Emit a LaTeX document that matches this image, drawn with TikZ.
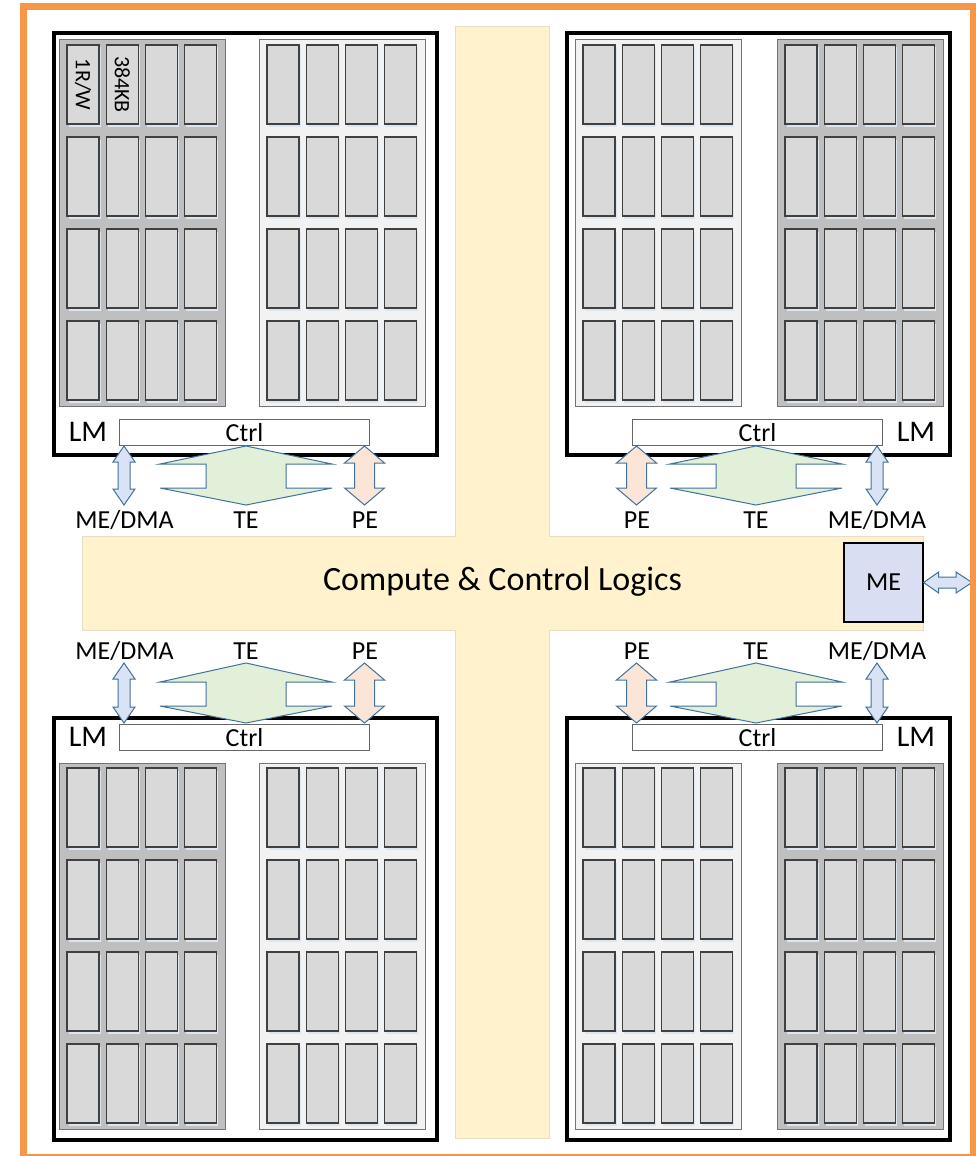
\documentclass[tikz,border=0pt]{standalone}
\usepackage{fontspec}
\setmainfont{Carlito}
\usetikzlibrary{calc}
\definecolor{frameorange}{HTML}{F79646}
\definecolor{logicfill}{HTML}{FFF2CC}
\definecolor{logicedge}{HTML}{E6DDC4}
\definecolor{tefill}{HTML}{E2F0D9}
\definecolor{pefill}{HTML}{FBE5D6}
\definecolor{mefill}{HTML}{DAE3F3}
\definecolor{mebox}{HTML}{D9DEF3}
\definecolor{arrowline}{HTML}{41719C}
\definecolor{bankdark}{HTML}{BFBFBF}
\definecolor{banklight}{HTML}{F2F2F2}
\definecolor{cellfill}{HTML}{D9D9D9}
\definecolor{glow}{HTML}{DCE6F2}

% one SRAM bank: 4 x 4 cells
\newcommand\membank[3]{%
  \draw[#3] (#1,#2) rectangle ++(166,366);
  \foreach \i in {0,...,3}{
    \foreach \j in {0,...,3}{
      \fill[glow] ({#1+8+39.3*\i+1.5},{#2+5+92*\j+2.5}) rectangle ++(32,79);
      \draw[cell] ({#1+8+39.3*\i},{#2+5+92*\j}) rectangle ++(32,79);
    }
  }
}
% vertical double arrow: x, top tip, bottom tip, head half-width, shaft half-width, head length, style
\newcommand\vdarrow[7]{%
  \draw[#7] (#1,#2) -- ({#1+#4},{#2+#6}) -- ({#1+#5},{#2+#6}) -- ({#1+#5},{#3-#6})
    -- ({#1+#4},{#3-#6}) -- (#1,#3) -- ({#1-#4},{#3-#6}) -- ({#1-#5},{#3-#6})
    -- ({#1-#5},{#2+#6}) -- ({#1-#4},{#2+#6}) -- cycle;
}
% TE link: notched diamond, centre x, top, upper notch, lower notch, bottom
\newcommand\teshape[5]{%
  \draw[telink] (#1,#2) -- ({#1+86},#3) -- ({#1+40},#3) -- ({#1+40},#4) -- ({#1+86},#4)
    -- (#1,#5) -- ({#1-86},#4) -- ({#1-40},#4) -- ({#1-40},#3) -- ({#1-86},#3) -- cycle;
}

\begin{document}
\begin{tikzpicture}[x=1pt,y=-1pt,
  font=\fontsize{26}{30}\selectfont,
  every node/.style={inner sep=0pt},
  block/.style={draw=black, line width=4pt, fill=white, anchor=north west,
                minimum width=383pt, minimum height=422pt},
  ctrlbox/.style={draw=black!60, line width=1pt, fill=white, anchor=north west,
                  minimum width=250pt, minimum height=26pt},
  darkbank/.style={draw=black!55, line width=1pt, fill=bankdark},
  lightbank/.style={draw=black!55, line width=1pt, fill=banklight},
  cell/.style={draw=black!75, line width=1.1pt, fill=cellfill},
  dmalink/.style={draw=arrowline, line width=1pt, fill=mefill},
  pelink/.style={draw=arrowline, line width=1pt, fill=pefill},
  telink/.style={draw=arrowline, line width=1pt, fill=tefill},
  lm/.style={font=\fontsize{30}{34}\selectfont},
  rot/.style={rotate=-90, font=\fontsize{22}{26}\selectfont}]
\useasboundingbox (0,0) rectangle (975,1156);
\fill[white] (0,0) rectangle (975,1156);

% compute & control logic cross
\draw[logicedge, line width=1pt, fill=logicfill]
  (455,27) -- (549,27) -- (549,536) -- (923,536) -- (923,630) -- (549,630)
  -- (549,1138) -- (455,1138) -- (455,630) -- (82,630) -- (82,536) -- (455,536) -- cycle;
\node (logic) at (502.5,582) {\fontsize{34}{38}\selectfont Compute \& Control Logics};

% ME unit and its external link
\node[draw=black, line width=1.3pt, fill=mebox, minimum width=79pt, minimum height=79pt]
  (me) at (883.5,582.5) {ME};
\draw[dmalink] (me.east) -- ++(15,-10.5) -- ++(0,5) -- (956,577) -- (956,572)
  -- (972,582.5) -- (956,593) -- (956,588) -- ($(me.east)+(15,5.5)$) -- ++(0,5) -- cycle;

% four local-memory blocks
\fill[glow] (54,33) rectangle (439,457);
\fill[glow] (567,33) rectangle (952,457);
\fill[glow] (54,718) rectangle (439,1142);
\fill[glow] (567,718) rectangle (952,1142);
\node[block] (lmTL) at (52,31) {};
\node[block] (lmTR) at (565,31) {};
\node[block] (lmBL) at (52,716) {};
\node[block] (lmBR) at (565,716) {};

\membank{59}{40}{darkbank}
\membank{259}{40}{lightbank}
\membank{575}{40}{lightbank}
\membank{777}{40}{darkbank}
\membank{59}{763}{darkbank}
\membank{259}{763}{lightbank}
\membank{575}{763}{lightbank}
\membank{777}{763}{darkbank}

\node[rot] (ports) at (83,84.5) {1R/W};
\node[rot] (size) at (122.3,84.5) {384KB};

% controllers
\node[ctrlbox] (ctrlTL) at (119,419) {Ctrl};
\node[ctrlbox] (ctrlTR) at (632,419) {Ctrl};
\node[ctrlbox] (ctrlBL) at (119,724) {Ctrl};
\node[ctrlbox] (ctrlBR) at (632,724) {Ctrl};

\node[lm] (lmlabelTL) at (88,432) {LM};
\node[lm] (lmlabelTR) at (916,432) {LM};
\node[lm] (lmlabelBL) at (88,737) {LM};
\node[lm] (lmlabelBR) at (916,737) {LM};

% links between the controllers and the engines
\vdarrow{124}{446}{505}{11}{6}{16}{dmalink}
\vdarrow{364.5}{446}{505}{20}{10}{17}{pelink}
\teshape{246}{446}{464}{488}{505}
\vdarrow{636.5}{446}{505}{20}{10}{17}{pelink}
\teshape{756}{446}{464}{488}{505}
\vdarrow{877}{446}{505}{11}{6}{16}{dmalink}

\vdarrow{124}{663}{723}{11}{6}{16}{dmalink}
\vdarrow{364.5}{663}{723}{20}{10}{17}{pelink}
\teshape{246}{663}{682}{706}{723}
\vdarrow{636.5}{663}{723}{20}{10}{17}{pelink}
\teshape{756}{663}{682}{706}{723}
\vdarrow{877}{663}{723}{11}{6}{16}{dmalink}

% engine labels
\node (dmaTL) at (124.5,520) {ME/DMA};
\node (teTL) at (246,520) {TE};
\node (peTL) at (365,520) {PE};
\node (peTR) at (637,520) {PE};
\node (teTR) at (756,520) {TE};
\node (dmaTR) at (877,520) {ME/DMA};
\node (dmaBL) at (124.5,651) {ME/DMA};
\node (teBL) at (246,651) {TE};
\node (peBL) at (365,651) {PE};
\node (peBR) at (637,651) {PE};
\node (teBR) at (756,651) {TE};
\node (dmaBR) at (877,651) {ME/DMA};

% chip outline
\draw[frameorange, line width=7pt] (23,7) rectangle (973,1157);
\end{tikzpicture}
\end{document}
